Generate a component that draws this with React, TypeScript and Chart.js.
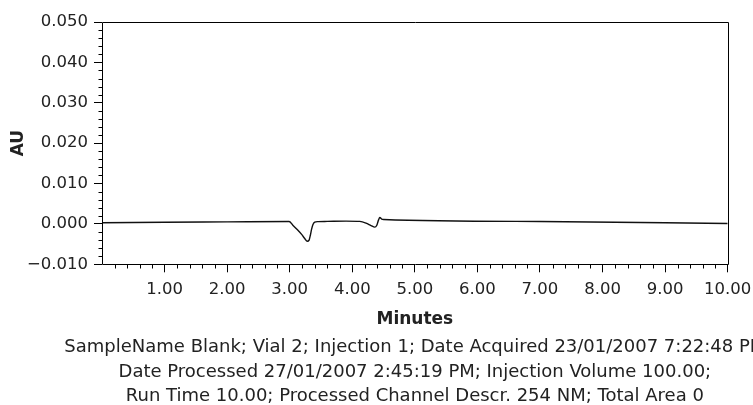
import React, { useEffect, useRef } from 'react';
import { Chart, registerables } from 'chart.js';

Chart.register(...registerables);

// Retention time (minutes) and detector response (AU)
const timeMin = [
  0, 1.0, 2.0, 2.99, 3.05, 3.12, 3.19, 3.24, 3.28, 3.31, 3.33, 3.35, 3.37, 3.4, 3.45,
  3.6, 3.9, 4.12, 4.22, 4.3, 4.36, 4.39, 4.42, 4.44, 4.47, 4.5, 7.0, 10.0,
];
const absorbanceAU = [
  0.0003, 0.0004, 0.0005, 0.0006, -0.0003, -0.0014, -0.0026, -0.0036, -0.0043, -0.004,
  -0.0028, -0.0013, -0.0002, 0.00045, 0.00058, 0.00062, 0.00068, 0.00062, 0.0002, -0.0004,
  -0.0008, -0.0004, 0.001, 0.0016, 0.0012, 0.0011, 0.0006, 0.0001,
];

const xMajorTicks = [1, 2, 3, 4, 5, 6, 7, 8, 9, 10];
const yMajorTicks = [-0.01, 0, 0.01, 0.02, 0.03, 0.04, 0.05];
const xMinorTicks = [
  0.2, 0.4, 0.6, 0.8, 1.2, 1.4, 1.6, 1.8, 2.2, 2.4, 2.6, 2.8, 3.2, 3.4, 3.6, 3.8, 4.2, 4.4,
  4.6, 4.8, 5.2, 5.4, 5.6, 5.8, 6.2, 6.4, 6.6, 6.8, 7.2, 7.4, 7.6, 7.8, 8.2, 8.4, 8.6, 8.8,
  9.2, 9.4, 9.6, 9.8,
];
const yMinorTicks = [
  -0.008, -0.006, -0.004, -0.002, 0.002, 0.004, 0.006, 0.008, 0.012, 0.014, 0.016, 0.018,
  0.022, 0.024, 0.026, 0.028, 0.032, 0.034, 0.036, 0.038, 0.042, 0.044, 0.046, 0.048,
];

const xAxisTitle = 'Minutes';
const yAxisTitle = 'AU';
const footerLines = [
  'SampleName Blank; Vial 2; Injection 1; Date Acquired 23/01/2007 7:22:48 PM',
  'Date Processed 27/01/2007 2:45:19 PM; Injection Volume 100.00;',
  'Run Time 10.00; Processed Channel Descr. 254 NM; Total Area 0',
];

const FONT = 'DejaVu Sans';
const TEXT = '#222';

const framePlugin = {
  id: 'frameAndMinorTicks',
  afterDraw(chart: any) {
    const { ctx, chartArea, scales } = chart;
    const { left, top, right, bottom } = chartArea;
    const L = Math.round(left) + 0.5;
    const T = Math.round(top) + 0.5;
    const R = Math.round(right) + 0.5;
    const B = Math.round(bottom) + 0.5;
    ctx.save();
    ctx.strokeStyle = '#000';
    ctx.lineWidth = 1;
    ctx.beginPath();
    ctx.moveTo(L, T);
    ctx.lineTo(R, T);
    ctx.lineTo(R, B);
    ctx.lineTo(L, B);
    ctx.closePath();
    ctx.stroke();
    ctx.beginPath();
    xMinorTicks.forEach((v) => {
      const px = Math.round(scales.x.getPixelForValue(v)) + 0.5;
      ctx.moveTo(px, B);
      ctx.lineTo(px, B + 4);
    });
    yMinorTicks.forEach((v) => {
      const py = Math.round(scales.y.getPixelForValue(v)) + 0.5;
      ctx.moveTo(L - 4, py);
      ctx.lineTo(L, py);
    });
    ctx.stroke();

    // footer text block, centred under the plot area
    ctx.fillStyle = TEXT;
    ctx.font = `18px "${FONT}"`;
    ctx.textAlign = 'center';
    ctx.textBaseline = 'middle';
    const cx = (left + right) / 2;
    footerLines.forEach((line, i) => {
      ctx.fillText(line, cx, bottom + 83 + i * 24.75);
    });
    ctx.restore();
  },
};

export default function App() {
  const canvasRef = useRef<HTMLCanvasElement | null>(null);

  useEffect(() => {
    if (!canvasRef.current) return;
    const chart = new Chart(canvasRef.current, {
      type: 'line',
      data: {
        datasets: [
          {
            data: timeMin.map((t, i) => ({ x: t, y: absorbanceAU[i] })),
            borderColor: '#111',
            borderWidth: 1.4,
            pointRadius: 0,
            fill: false,
            cubicInterpolationMode: 'monotone',
          },
        ],
      },
      options: {
        responsive: false,
        animation: false,
        devicePixelRatio: 1,
        layout: { padding: { top: 22, right: 25.3, bottom: 0, left: 0 } },
        plugins: {
          legend: { display: false },
          tooltip: { enabled: false },
          title: { display: false },
        },
        scales: {
          x: {
            type: 'linear',
            min: 0,
            max: 10,
            afterBuildTicks: (scale: any) => {
              scale.ticks = xMajorTicks.map((v) => ({ value: v }));
            },
            afterFit: (scale: any) => {
              scale.height = 140.7;
              scale.paddingLeft = 0;
              scale.paddingRight = 0;
            },
            border: { display: false },
            grid: {
              drawOnChartArea: false,
              drawTicks: true,
              tickLength: 8,
              tickColor: '#000',
              tickWidth: 1,
            },
            ticks: {
              autoSkip: false,
              maxRotation: 0,
              padding: 8,
              color: TEXT,
              font: { family: FONT, size: 16.5 },
              callback: (v: any) => Number(v).toFixed(2),
            },
            title: {
              display: true,
              text: xAxisTitle,
              color: TEXT,
              font: { family: FONT, size: 17, weight: 'bold' },
              padding: { top: 0, bottom: 75.5 },
            },
          },
          y: {
            type: 'linear',
            min: -0.01,
            max: 0.05,
            afterBuildTicks: (scale: any) => {
              scale.ticks = yMajorTicks.map((v) => ({ value: v }));
            },
            afterFit: (scale: any) => {
              scale.width = 102;
            },
            border: { display: false },
            grid: {
              drawOnChartArea: false,
              drawTicks: true,
              tickLength: 8,
              tickColor: '#000',
              tickWidth: 1,
            },
            ticks: {
              padding: 6,
              color: TEXT,
              font: { family: FONT, size: 16.5 },
              callback: (v: any) => {
                const n = Number(v);
                if (Math.abs(n) < 1e-9) return '0.000';
                const s = Math.abs(n).toFixed(3);
                return n < 0 ? '\u2212' + s : s;
              },
            },
            title: {
              display: true,
              text: yAxisTitle,
              color: TEXT,
              font: { family: FONT, size: 17, weight: 'bold' },
              padding: { top: 8, bottom: 0 },
            },
          },
        },
      },
      plugins: [framePlugin],
    });
    return () => chart.destroy();
  }, []);

  return (
    <div style={{ position: 'fixed', left: 0, top: 0, width: 753, height: 405, background: '#fff' }}>
      <canvas ref={canvasRef} width={753} height={405} style={{ display: 'block', width: 753, height: 405 }} />
    </div>
  );
}
